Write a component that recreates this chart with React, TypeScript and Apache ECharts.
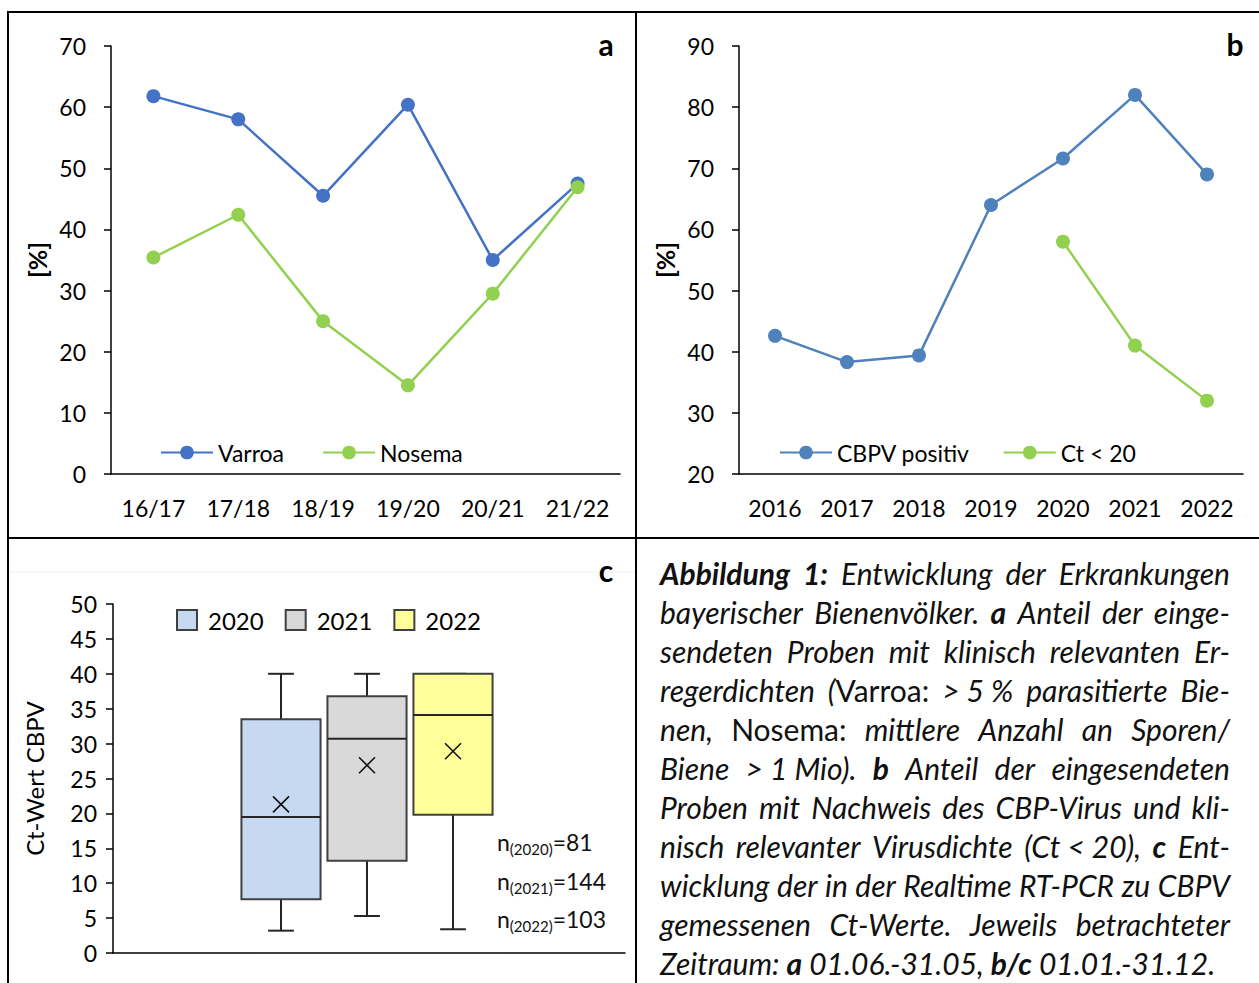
import React, { useEffect, useRef } from 'react';
import * as echarts from 'echarts';

// ---------- data ----------
const seasonsA = ['16/17', '17/18', '18/19', '19/20', '20/21', '21/22'];
const varroa = [61.8, 58.0, 45.5, 60.4, 35.0, 47.5];
const nosema = [35.4, 42.4, 25.0, 14.5, 29.5, 46.9];

const yearsB = ['2016', '2017', '2018', '2019', '2020', '2021', '2022'];
const cbpvPositiv = [42.6, 38.3, 39.4, 64.0, 71.6, 82.0, 69.0];
const ctUnder20: (number | string)[] = ['-', '-', '-', '-', 58.0, 41.0, 32.0];

const boxYears = ['2020', '2021', '2022'];
// [min, Q1, median, Q3, max]
const box2020 = [3.2, 7.7, 19.5, 33.5, 40];
const box2021 = [5.3, 13.2, 30.7, 36.8, 40];
const box2022 = [3.4, 19.8, 34.1, 40, 40];
const boxMeans = [21.3, 26.9, 28.9];
const sampleCounts = [81, 144, 103];

const captionLines: [string, string][][] = [
  [['b', 'Abbildung 1:'], ['i', ' Entwicklung der Erkrankungen']],
  [['i', 'bayerischer Bienenvölker. '], ['b', 'a'], ['i', ' Anteil der einge-']],
  [['i', 'sendeten Proben mit klinisch relevanten Er-']],
  [['i', 'regerdichten ('], ['n', 'Varroa:'], ['i', ' >\u00a05\u00a0% parasitierte Bie-']],
  [['i', 'nen, '], ['n', 'Nosema:'], ['i', ' mittlere Anzahl an Sporen/']],
  [['i', 'Biene >\u00a01\u00a0Mio). '], ['b', 'b'], ['i', ' Anteil der eingesendeten']],
  [['i', 'Proben mit Nachweis des CBP-Virus und kli-']],
  [['i', 'nisch relevanter Virusdichte (Ct\u00a0<\u00a020), '], ['b', 'c'], ['i', ' Ent-']],
  [['i', 'wicklung der in der Realtime RT-PCR zu CBPV']],
  [['i', 'gemessenen Ct-Werte. Jeweils betrachteter']],
  [['i', 'Zeitraum: '], ['b', 'a'], ['i', ' 01.06.-31.05, '], ['b', 'b/c'], ['i', ' 01.01.-31.12.']],
];

// ---------- styles ----------
const FONT = 'Lato';
const BLUE_A = '#4472c4';
const BLUE_B = '#4f81bd';
const GREEN = '#92d050';
const BOX_COLORS = ['#c6d9f1', '#d9d9d9', '#ffff99'];
const BOX_BORDER = '#404040';
const axisLineStyle = { color: '#000', width: 1.5 };
const baseLabel = { color: '#000', fontFamily: FONT, fontSize: 23 };

type Frag = { s: string; t: string };

function toWords(segs: [string, string][]): Frag[][] {
  const words: Frag[][] = [];
  let cur: Frag[] = [];
  for (const [s, t] of segs) {
    const parts = t.split(' ');
    parts.forEach((p, k) => {
      if (k > 0) {
        if (cur.length) words.push(cur);
        cur = [];
      }
      if (p) cur.push({ s, t: p });
    });
  }
  if (cur.length) words.push(cur);
  return words;
}

function fontOf(s: string, size: number) {
  if (s === 'b') return `italic bold ${size}px ${FONT}`;
  if (s === 'i') return `italic normal ${size}px ${FONT}`;
  return `normal normal ${size}px ${FONT}`;
}

function buildCaption(x0: number, x1: number, yTop: number, step: number) {
  const ctx = document.createElement('canvas').getContext('2d')!;
  const target = x1 - x0;
  const wordsPerLine = captionLines.map(toWords);
  const measure = (size: number) =>
    wordsPerLine.map((words) => {
      let w = 0;
      words.forEach((word) =>
        word.forEach((f) => {
          ctx.font = fontOf(f.s, size);
          w += ctx.measureText(f.t).width;
        })
      );
      return w;
    });
  let size = 34;
  let widths = measure(size);
  for (; size > 16; size -= 0.25) {
    widths = measure(size);
    ctx.font = fontOf('i', size);
    const sp = ctx.measureText(' ').width;
    const ok = wordsPerLine.every((words, li) => widths[li] + sp * (words.length - 1) <= target);
    if (ok) break;
  }
  ctx.font = fontOf('i', size);
  const space = ctx.measureText(' ').width;
  const rich: any = {};
  ['b', 'i', 'n'].forEach((s) => {
    rich[s] = {
      fontFamily: FONT,
      fontSize: size,
      fontStyle: s === 'n' ? 'normal' : 'italic',
      fontWeight: s === 'b' ? 'bold' : 'normal',
      fill: '#111',
    };
  });
  return wordsPerLine.map((words, li) => {
    const last = li === wordsPerLine.length - 1;
    const gap = last ? space : (target - widths[li]) / Math.max(1, words.length - 1);
    const lineRich = { ...rich, g: { fontFamily: FONT, fontSize: size, width: gap, fill: '#111' } };
    const text = words
      .map((word) => word.map((f) => `{${f.s}|${f.t}}`).join(''))
      .join('{g| }');
    return {
      type: 'text',
      x: x0,
      y: yTop + step * li,
      style: { text, rich: lineRich, align: 'left', verticalAlign: 'middle' },
    };
  });
}

function buildOption(): any {
  const boxStats = [box2020, box2021, box2022];
  const boxSeries = boxYears.map((yr, i) => ({
    type: 'custom',
    name: yr,
    xAxisIndex: 3,
    yAxisIndex: 3,
    itemStyle: { color: BOX_COLORS[i], borderColor: BOX_BORDER },
    encode: { x: 0, y: [1, 2, 3, 4, 5, 6] },
    data: [[i, ...boxStats[i], boxMeans[i]]],
    renderItem: (params: any, api: any) => {
      const idx = api.value(0);
      const vals = [1, 2, 3, 4, 5, 6].map((k) => api.coord([idx, api.value(k)]));
      const [pMin, pQ1, pMed, pQ3, pMax, pMean] = vals;
      const band = api.size([1, 0])[0];
      const cx = pMin[0];
      const bw = band * 0.92;
      const cw = band * 0.3;
      const lineSt = { stroke: '#262626', lineWidth: 2 };
      const m = 8;
      return {
        type: 'group',
        children: [
          { type: 'line', shape: { x1: cx, y1: pMax[1], x2: cx, y2: pQ3[1] }, style: lineSt },
          { type: 'line', shape: { x1: cx, y1: pQ1[1], x2: cx, y2: pMin[1] }, style: lineSt },
          { type: 'line', shape: { x1: cx - cw / 2, y1: pMax[1], x2: cx + cw / 2, y2: pMax[1] }, style: lineSt },
          { type: 'line', shape: { x1: cx - cw / 2, y1: pMin[1], x2: cx + cw / 2, y2: pMin[1] }, style: lineSt },
          {
            type: 'rect',
            shape: { x: cx - bw / 2, y: pQ3[1], width: bw, height: pQ1[1] - pQ3[1] },
            style: { fill: BOX_COLORS[i], stroke: BOX_BORDER, lineWidth: 2 },
          },
          { type: 'line', shape: { x1: cx - bw / 2, y1: pMed[1], x2: cx + bw / 2, y2: pMed[1] }, style: lineSt },
          { type: 'line', shape: { x1: pMean[0] - m, y1: pMean[1] - m, x2: pMean[0] + m, y2: pMean[1] + m }, style: { stroke: '#111', lineWidth: 1.6 } },
          { type: 'line', shape: { x1: pMean[0] - m, y1: pMean[1] + m, x2: pMean[0] + m, y2: pMean[1] - m }, style: { stroke: '#111', lineWidth: 1.6 } },
        ],
      };
    },
  }));

  const lineSeries = (name: string, data: any[], color: string, xi: number) => ({
    type: 'line',
    name,
    xAxisIndex: xi,
    yAxisIndex: xi,
    data,
    symbol: 'circle',
    symbolSize: 14,
    lineStyle: { color, width: 2.5 },
    itemStyle: { color },
  });

  const nLabels = boxYears.map((yr, i) => ({
    type: 'text',
    x: 497,
    y: 842 + 38.5 * i,
    style: {
      text: `{m|n}{s|(${yr})}{m|=${sampleCounts[i]}}`,
      align: 'left',
      verticalAlign: 'middle',
      rich: {
        m: { fontFamily: FONT, fontSize: 23, lineHeight: 32, fill: '#111' },
        s: { fontFamily: FONT, fontSize: 15, lineHeight: 18, padding: [14, 0, 0, 0], fill: '#111' },
      },
    },
  }));

  const letter = (t: string, x: number, y: number) => ({
    type: 'text',
    x,
    y,
    style: { text: t, fontFamily: FONT, fontSize: 30, fontWeight: 'bold', fill: '#000', align: 'center', verticalAlign: 'middle' },
  });

  const frame = { stroke: '#000', lineWidth: 2 };

  const yAxisCommon = (gi: number, min: number, max: number, interval: number, name: string, bold: boolean, nameGap: number, margin: number) => ({
    gridIndex: gi,
    type: 'value',
    min,
    max,
    interval,
    axisLine: { show: true, lineStyle: axisLineStyle },
    axisTick: { show: true, length: 7, lineStyle: axisLineStyle },
    splitLine: { show: false },
    axisLabel: { ...baseLabel, margin },
    name,
    nameLocation: 'middle',
    nameRotate: 90,
    nameGap,
    nameTextStyle: { ...baseLabel, fontSize: bold ? 25 : 24, fontWeight: bold ? 'bold' : 'normal' },
  });

  const lineLegend = (names: string[], left: number, gap: number) => ({
    data: names,
    left,
    top: 441,
    padding: 0,
    itemWidth: 52,
    itemHeight: 17,
    itemGap: gap,
    textStyle: { ...baseLabel },
  });

  return {
    animation: false,
    backgroundColor: '#fff',
    textStyle: { fontFamily: FONT, color: '#000' },
    grid: [
      { left: 111, top: 46, width: 509, height: 428 },
      { left: 739, top: 46, width: 504, height: 428 },
      { left: 113, top: 604, width: 512, height: 349 },
      { left: 238, top: 604, width: 258, height: 349 },
    ],
    xAxis: [
      {
        gridIndex: 0,
        type: 'category',
        data: seasonsA,
        axisLine: { lineStyle: axisLineStyle },
        axisTick: { interval: 0, length: 8, lineStyle: axisLineStyle },
        axisLabel: { ...baseLabel, interval: 0, margin: 22 },
      },
      {
        gridIndex: 1,
        type: 'category',
        data: yearsB,
        axisLine: { lineStyle: axisLineStyle },
        axisTick: { interval: 0, length: 8, lineStyle: axisLineStyle },
        axisLabel: { ...baseLabel, interval: 0, margin: 22 },
      },
      {
        gridIndex: 2,
        type: 'category',
        data: [''],
        axisLine: { lineStyle: axisLineStyle },
        axisTick: { show: false },
        axisLabel: { show: false },
      },
      { gridIndex: 3, type: 'category', data: boxYears, show: false },
    ],
    yAxis: [
      yAxisCommon(0, 0, 70, 10, '[%]', true, 62, 25),
      yAxisCommon(1, 20, 90, 10, '[%]', true, 62, 25),
      yAxisCommon(2, 0, 50, 5, 'Ct-Wert CBPV', false, 67, 16),
      { gridIndex: 3, type: 'value', min: 0, max: 50, show: false },
    ],
    legend: [
      lineLegend(['Varroa', 'Nosema'], 160, 38),
      lineLegend(['CBPV positiv', 'Ct < 20'], 779, 33),
      {
        data: boxYears.map((y, i) => ({
          name: y,
          icon: 'rect',
          itemStyle: { color: BOX_COLORS[i], borderColor: BOX_BORDER, borderWidth: 2 },
        })),
        left: 176,
        top: 608,
        padding: 0,
        itemWidth: 20,
        itemHeight: 20,
        itemGap: 21,
        textStyle: { ...baseLabel, fontSize: 24, padding: [0, 0, 0, 6] },
      },
    ],
    series: [
      lineSeries('Varroa', varroa, BLUE_A, 0),
      lineSeries('Nosema', nosema, GREEN, 0),
      lineSeries('CBPV positiv', cbpvPositiv, BLUE_B, 1),
      lineSeries('Ct < 20', ctUnder20, GREEN, 1),
      ...boxSeries,
    ],
    graphic: [
      { type: 'line', shape: { x1: 7, y1: 12, x2: 1259, y2: 12 }, style: frame },
      { type: 'line', shape: { x1: 8, y1: 11, x2: 8, y2: 983 }, style: frame },
      { type: 'line', shape: { x1: 636, y1: 11, x2: 636, y2: 983 }, style: frame },
      { type: 'line', shape: { x1: 7, y1: 538, x2: 1259, y2: 538 }, style: frame },
      { type: 'line', shape: { x1: 9, y1: 572, x2: 635, y2: 572 }, style: { stroke: '#f0f0f0', lineWidth: 1 } },
      letter('a', 606, 44),
      letter('b', 1235, 44),
      letter('c', 606, 570),
      ...nLabels,
      ...buildCaption(660, 1230, 573, 39),
    ],
  };
}

export default function App() {
  const ref = useRef<HTMLDivElement>(null);
  useEffect(() => {
    document.body.style.margin = '0';
    document.body.style.overflow = 'hidden';
    const chart = echarts.init(ref.current!, null, { renderer: 'svg' });
    chart.setOption(buildOption());
    return () => chart.dispose();
  }, []);
  return <div ref={ref} style={{ width: 1259, height: 983, background: '#fff' }} />;
}
